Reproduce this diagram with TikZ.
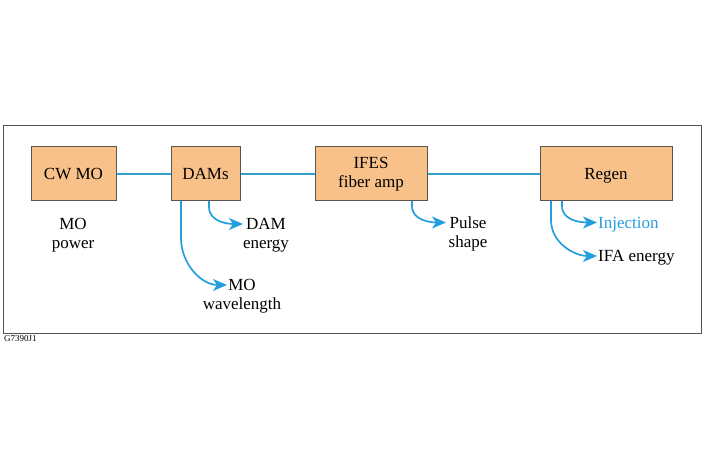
\documentclass[tikz,border=0pt]{standalone}
\usepackage{fontspec}
\setmainfont{Liberation Serif}
\usetikzlibrary{arrows.meta}
\definecolor{boxfill}{RGB}{249,193,138}
\definecolor{boxedge}{RGB}{90,85,80}
\definecolor{linkblue}{RGB}{52,160,205}
\definecolor{arrblue}{RGB}{36,158,221}
\definecolor{framegray}{RGB}{80,80,80}
\begin{document}
\begin{tikzpicture}[x=1pt,y=-1pt,
  blk/.style={draw=boxedge,line width=1pt,fill=boxfill,inner sep=0pt,font=\fontsize{17}{19}\selectfont,align=center},
  one/.style={text height=11.5pt,text depth=0pt},
  lbl/.style={font=\fontsize{17}{19}\selectfont,align=center,inner sep=0pt},
  link/.style={draw=linkblue,line width=1.6pt},
  flow/.style={draw=arrblue,line width=1.7pt,-{Stealth[length=14pt,width=12pt,inset=4pt]}}]
\useasboundingbox (0,0) rectangle (705,470);
\node[draw=framegray,line width=1pt,minimum width=698pt,minimum height=208pt,anchor=north west,inner sep=0pt] (frame) at (3,125) {};
\node[anchor=base west,inner sep=0pt,font=\fontsize{9}{10}\selectfont] (tag) at (4,342) {G7390J1};
\node[blk,one,minimum width=85pt,minimum height=54pt] (cw) at (73.5,174) {CW MO};
\node[blk,one,minimum width=69pt,minimum height=54pt] (dams) at (205.5,174) {DAMs};
\node[blk,minimum width=112pt,minimum height=54pt] (ifes) at (371,174) {IFES\\fiber amp};
\node[blk,one,minimum width=132pt,minimum height=54pt] (regen) at (606,174) {Regen};
\draw[link] (cw.east) -- (dams.west);
\draw[link] (dams.east) -- (ifes.west);
\draw[link] (ifes.east) -- (regen.west);
\node[lbl] (mopow) at (73,235) {MO\\power};
% arrows
\coordinate (s1) at (209,201);
\coordinate (e1) at (243,224);
\node[lbl,anchor=north] (damen) at (266,218) {DAM\\energy};
\coordinate (s2) at (181,201);
\coordinate (e2) at (227,285);
\node[lbl,anchor=north] (mowl) at (242,279.5) {MO\\wavelength};
\coordinate (s3) at (412,201);
\coordinate (e3) at (446,222.5);
\node[lbl,anchor=north] (pulse) at (468,217) {Pulse\\shape};
\coordinate (s4) at (562,201);
\coordinate (e4) at (597,222.5);
\node[lbl,anchor=base west,text=arrblue] (inj) at (598,228.3) {Injection};
\coordinate (s5) at (551,201);
\coordinate (e5) at (597,256);
\node[lbl,anchor=base west] (ifa) at (598,262) {IFA energy};
\draw[flow] (s1) -- (209,207) to[out=-90,in=180] (e1);
\draw[flow] (s2) -- (181,238) to[out=-90,in=180] (e2);
\draw[flow] (s3) -- (412,206) to[out=-90,in=180] (e3);
\draw[flow] (s4) -- (562,206) to[out=-90,in=180] (e4);
\draw[flow] (s5) -- (551,220) to[out=-90,in=180] (e5);
\end{tikzpicture}
\end{document}
